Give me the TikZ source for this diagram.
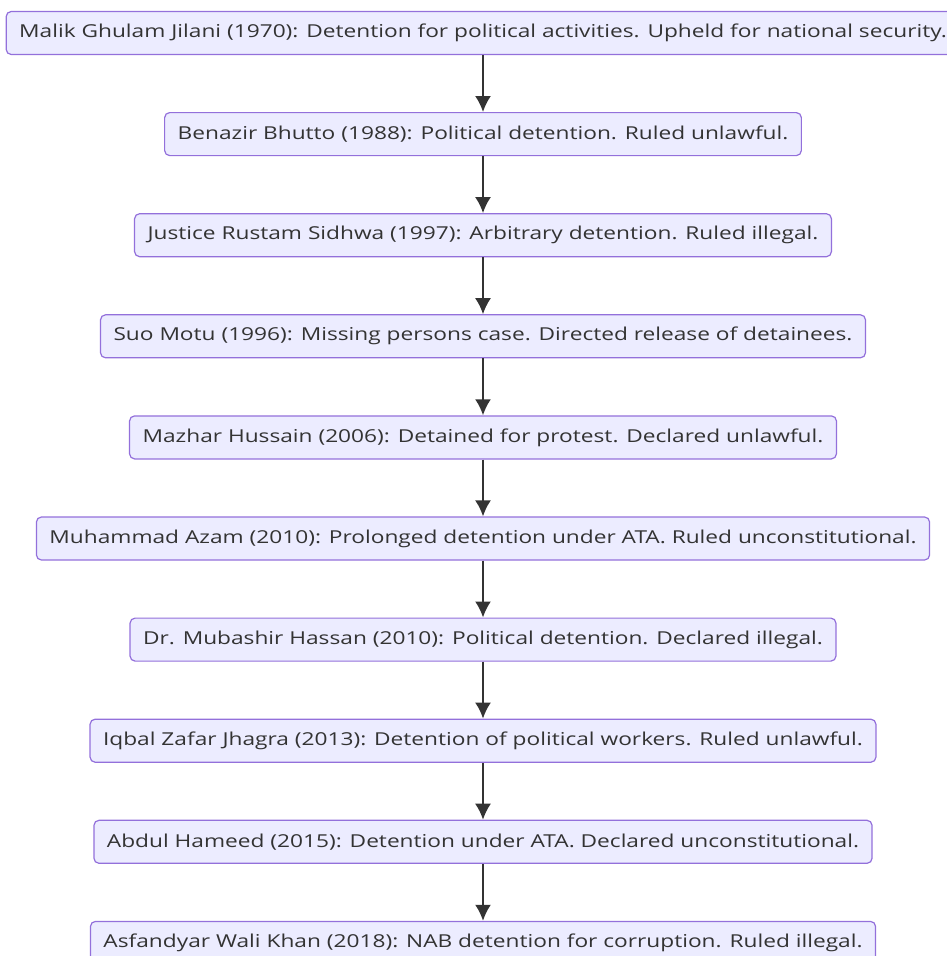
\documentclass[tikz,border=0pt]{standalone}
\usepackage{fontspec}
\setmainfont{Open Sans}[FakeStretch=1.275]
\usepackage{xcolor}
\usepackage{tikz}
\usetikzlibrary{arrows.meta,positioning}

\definecolor{boxfill}{HTML}{ECECFF}
\definecolor{boxline}{HTML}{9370DB}
\definecolor{ink}{HTML}{333333}

\begin{document}
\begin{tikzpicture}[
  x=1pt,y=-1pt,
  node distance=56.9pt,
  box/.style={draw=boxline,fill=boxfill,line width=1.2pt,rounded corners=5pt,
    minimum height=43pt,inner xsep=13pt,text=ink,font=\fontsize{17.8}{21}\selectfont},
  arr/.style={-{Latex[length=16pt,width=16pt]},line width=2pt,draw=ink}
]
\useasboundingbox (0,0) rectangle (947,956);
\node[box] (jilani) at (483,33) {Malik Ghulam Jilani (1970): Detention for political activities. Upheld for national security.};
\node[box,below=of jilani] (bhutto) {Benazir Bhutto (1988): Political detention. Ruled unlawful.};
\node[box,below=of bhutto] (sidhwa) {Justice Rustam Sidhwa (1997): Arbitrary detention. Ruled illegal.};
\node[box,below=of sidhwa] (suomotu) {Suo Motu (1996): Missing persons case. Directed release of detainees.};
\node[box,below=of suomotu] (mazhar) {Mazhar Hussain (2006): Detained for protest. Declared unlawful.};
\node[box,below=of mazhar] (azam) {Muhammad Azam (2010): Prolonged detention under ATA. Ruled unconstitutional.};
\node[box,below=of azam] (hassan) {Dr. Mubashir Hassan (2010): Political detention. Declared illegal.};
\node[box,below=of hassan] (jhagra) {Iqbal Zafar Jhagra (2013): Detention of political workers. Ruled unlawful.};
\node[box,below=of jhagra] (hameed) {Abdul Hameed (2015): Detention under ATA. Declared unconstitutional.};
\node[box,below=of hameed] (wali) {Asfandyar Wali Khan (2018): NAB detention for corruption. Ruled illegal.};
\draw[arr] (jilani) -- (bhutto);
\draw[arr] (bhutto) -- (sidhwa);
\draw[arr] (sidhwa) -- (suomotu);
\draw[arr] (suomotu) -- (mazhar);
\draw[arr] (mazhar) -- (azam);
\draw[arr] (azam) -- (hassan);
\draw[arr] (hassan) -- (jhagra);
\draw[arr] (jhagra) -- (hameed);
\draw[arr] (hameed) -- (wali);
\end{tikzpicture}
\end{document}
